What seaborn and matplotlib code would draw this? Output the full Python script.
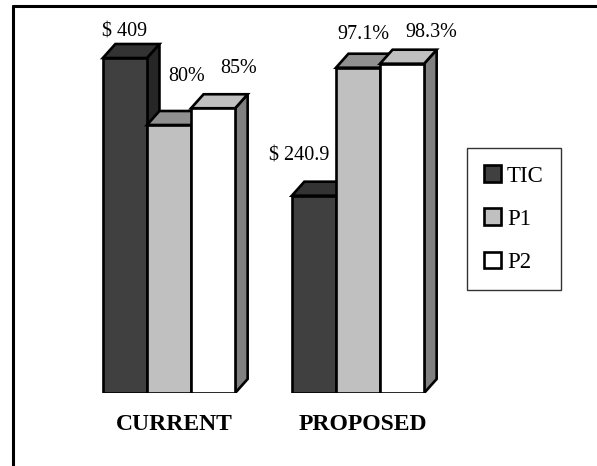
import pandas as pd
import seaborn as sns
import matplotlib.pyplot as plt
from matplotlib.patches import Polygon, Patch
from matplotlib.lines import Line2D
from matplotlib.transforms import ScaledTranslation

groups = ["CURRENT", "PROPOSED"]
series = ["TIC", "P1", "P2"]
tic_cost = [409, 240.9]
p1_pct = [80, 97.1]
p2_pct = [85, 98.3]

# label text for each bar
tic_labels = ["$ %g" % v for v in tic_cost]
p1_labels = ["%g%%" % v for v in p1_pct]
p2_labels = ["%g%%" % v for v in p2_pct]

# colours: front, top, side
front = ["#404040", "#c0c0c0", "#ffffff"]
top = ["#333333", "#909090", "#c0c0c0"]
side = ["#262626", "#808080", "#808080"]

# TIC drawn on the same height scale as the percentages
tic_scale = 100 / max(tic_cost)

rows = []
for j, g in enumerate(groups):
    rows.append((g, "TIC", tic_cost[j] * tic_scale))
    rows.append((g, "P1", p1_pct[j]))
    rows.append((g, "P2", p2_pct[j]))
df = pd.DataFrame(rows, columns=["group", "series", "height"])

sns.set_style("white")
plt.rcParams['font.family'] = ['Liberation Serif', 'DejaVu Serif']
plt.rcParams['text.color'] = 'black'
plt.rcParams['xtick.color'] = 'black'

fig = plt.figure(figsize=(5.97, 4.66), dpi=100)
W, H = 597, 466
ax = fig.add_axes([60 / W, (H - 393) / H, 400 / W, 373 / H])

lw = 1.9
sns.barplot(data=df, x="group", y="height", hue="series", order=groups,
            hue_order=series, palette=front, width=0.7, saturation=1,
            edgecolor="black", linewidth=lw, legend=False, ax=ax)

ax.set_xlim(-109 / 189, -109 / 189 + 400 / 189)
ax.set_ylim(0, 373 / 3.35)

# depth of the fake 3d boxes (pixels -> data)
px_x = 1 / 189
px_y = 1 / 3.35
dx = 12.5 * px_x
dy = 14 * px_y

# label offsets in pixels (x from bar centre, baseline above front top)
lab_off = {
    ("TIC", 0): (0, 21), ("P1", 0): (18, 44), ("P2", 0): (26, 35),
    ("TIC", 1): (-15, 35), ("P1", 1): (5, 29), ("P2", 1): (29, 27),
}
labels = {"TIC": tic_labels, "P1": p1_labels, "P2": p2_labels}

for i, cont in enumerate(ax.containers):
    s = series[i]
    for j, p in enumerate(cont.patches):
        x0, w, h = p.get_x(), p.get_width(), p.get_height()
        p.set_zorder(3 + 3 * i + 2)
        p.set_joinstyle("miter")
        sd = Polygon([(x0 + w, 0), (x0 + w + dx, dy), (x0 + w + dx, h + dy), (x0 + w, h)],
                     closed=True, facecolor=side[i], edgecolor="black",
                     linewidth=lw, zorder=3 + 3 * i, joinstyle="miter")
        tp = Polygon([(x0, h), (x0 + w, h), (x0 + w + dx, h + dy), (x0 + dx, h + dy)],
                     closed=True, facecolor=top[i], edgecolor="black",
                     linewidth=lw, zorder=3 + 3 * i + 1, joinstyle="miter")
        ax.add_patch(sd)
        ax.add_patch(tp)
        ox, oy = lab_off[(s, j)]
        ax.annotate(labels[s][j], xy=(x0 + w / 2, h), xytext=(ox, oy),
                    textcoords="offset pixels", ha="center", va="baseline",
                    fontsize=14.5, color="black", zorder=20)

for sp in ax.spines.values():
    sp.set_visible(False)
ax.set_yticks([])
ax.set_xlabel("")
ax.set_ylabel("")
ax.tick_params(axis="x", length=0, pad=15)
ax.set_xticks(range(len(groups)))
ax.set_xticklabels(groups, fontsize=17, fontweight="bold", color="black")
shift = ScaledTranslation(5 / 100, 0, fig.dpi_scale_trans)
for t in ax.get_xticklabels():
    t.set_transform(t.get_transform() + shift)

handles = [Patch(facecolor=front[i], edgecolor="black", linewidth=lw) for i in range(3)]
leg = fig.legend(handles, series, loc="upper left",
                 bbox_to_anchor=(467 / W, 1 - 148 / H), fontsize=16.5,
                 frameon=True, fancybox=False, handlelength=0.75,
                 handleheight=0.75, handletextpad=0.25, labelspacing=0.95,
                 borderpad=0.75, borderaxespad=0)
leg.get_frame().set_edgecolor("black")
leg.get_frame().set_linewidth(1)
for t in leg.get_texts():
    t.set_color("black")

# outer frame (top and left edges of the figure box)
fig.add_artist(Line2D([13 / W, 13 / W], [0, 1 - 6 / H], color="black",
                      linewidth=2.2, transform=fig.transFigure))
fig.add_artist(Line2D([13 / W, 1], [1 - 6 / H, 1 - 6 / H], color="black",
                      linewidth=2.2, transform=fig.transFigure))

fig.savefig("out.png", dpi=100)
